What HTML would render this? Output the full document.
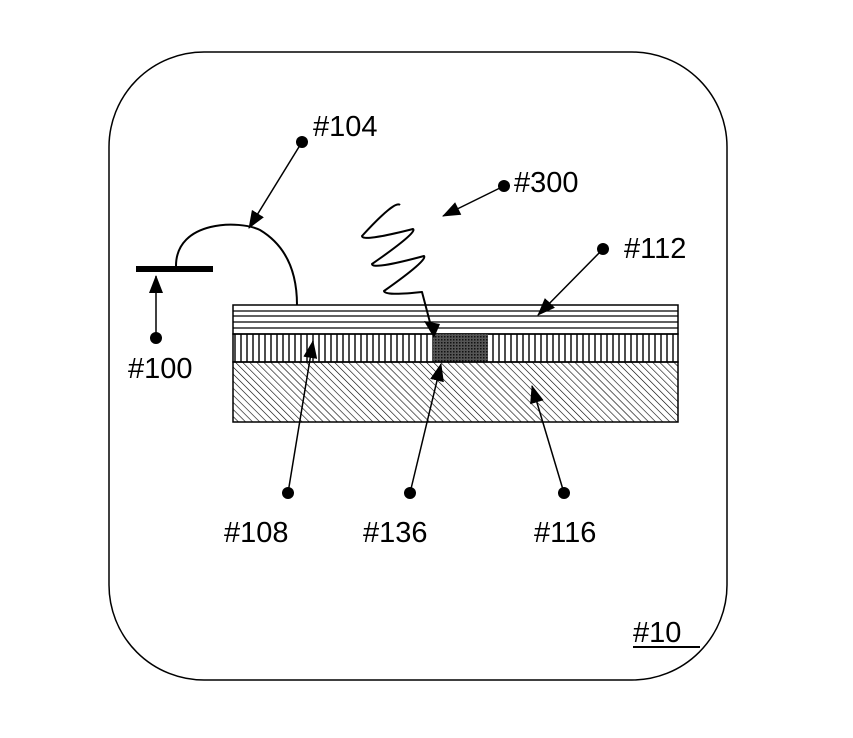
<!DOCTYPE html>
<html><head><style>body{margin:0;background:#fff}svg{display:block}text{font-family:"Liberation Sans",sans-serif;font-size:29px;fill:#000}</style></head>
<body>
<svg width="853" height="738" viewBox="0 0 853 738">
<defs>
<pattern id="hatch" width="5" height="5" patternUnits="userSpaceOnUse" patternTransform="rotate(-45)"><line x1="0" y1="0" x2="0" y2="5" stroke="#000" stroke-width="1.2"/></pattern>
<pattern id="vert" width="6" height="10" patternUnits="userSpaceOnUse"><line x1="1" y1="0" x2="1" y2="10" stroke="#000" stroke-width="1.4"/></pattern>
<pattern id="dots" width="3" height="3" patternUnits="userSpaceOnUse"><rect width="3" height="3" fill="#555"/><rect width="1.5" height="1.5" fill="#111"/></pattern>
<marker id="ahb" markerWidth="18" markerHeight="14" refX="17" refY="7" orient="auto" markerUnits="userSpaceOnUse" viewBox="0 0 18 14"><path d="M0,0 L18,7 L0,14 z" fill="#000"/></marker>
</defs>
<rect x="109" y="52" width="618" height="628" rx="95" fill="none" stroke="#000" stroke-width="1.5"/>
<rect x="233" y="305" width="445" height="29" fill="#fff" stroke="#000" stroke-width="1.5"/>
<g stroke="#000" stroke-width="1.2"><line x1="233" y1="311" x2="678" y2="311"/><line x1="233" y1="316" x2="678" y2="316"/><line x1="233" y1="322" x2="678" y2="322"/><line x1="233" y1="328" x2="678" y2="328"/></g>
<rect x="233" y="334" width="445" height="28" fill="url(#vert)" stroke="#000" stroke-width="1.5"/>
<rect x="433" y="334" width="55" height="28" fill="url(#dots)"/>
<rect x="233" y="362" width="445" height="60" fill="url(#hatch)" stroke="#000" stroke-width="1.5"/>
<rect x="136" y="266" width="77" height="6" fill="#000"/>
<line x1="156" y1="338" x2="156" y2="276" stroke="#000" stroke-width="1.5" marker-end="url(#ahb)"/>
<circle cx="156" cy="338" r="6"/>
<text x="128" y="378">#100</text>
<path d="M176,266 C176,220 240,220 260,230 C285,245 297,270 297,305" fill="none" stroke="#000" stroke-width="2"/>
<line x1="302" y1="142" x2="249" y2="228" stroke="#000" stroke-width="1.5" marker-end="url(#ahb)"/>
<circle cx="302" cy="142" r="6"/>
<text x="313" y="136">#104</text>
<path d="M400,205 Q395,200 362,236 Q362,242 413,229 Q418,232 372,264 Q372,270 424,256 Q428,260 384,291 Q385,296 422,292 L432,330" fill="none" stroke="#000" stroke-width="2" stroke-linejoin="round"/>
<path d="M424,321 L440,324 L434,338 z" fill="#000"/>
<line x1="504" y1="186" x2="443" y2="216" stroke="#000" stroke-width="1.5" marker-end="url(#ahb)"/>
<circle cx="504" cy="186" r="6"/>
<text x="514" y="192">#300</text>
<line x1="603" y1="249" x2="538" y2="315" stroke="#000" stroke-width="1.5" marker-end="url(#ahb)"/>
<circle cx="603" cy="249" r="6"/>
<text x="624" y="258">#112</text>
<line x1="288" y1="493" x2="313" y2="341" stroke="#000" stroke-width="1.5" marker-end="url(#ahb)"/>
<circle cx="288" cy="493" r="6"/>
<text x="224" y="542">#108</text>
<line x1="410" y1="493" x2="441" y2="364" stroke="#000" stroke-width="1.5" marker-end="url(#ahb)"/>
<circle cx="410" cy="493" r="6"/>
<text x="363" y="542">#136</text>
<line x1="564" y1="493" x2="532" y2="386" stroke="#000" stroke-width="1.5" marker-end="url(#ahb)"/>
<circle cx="564" cy="493" r="6"/>
<text x="534" y="542">#116</text>
<text x="633" y="642">#10</text>
<line x1="633" y1="647" x2="700" y2="647" stroke="#000" stroke-width="2"/>
</svg>
</body></html>
